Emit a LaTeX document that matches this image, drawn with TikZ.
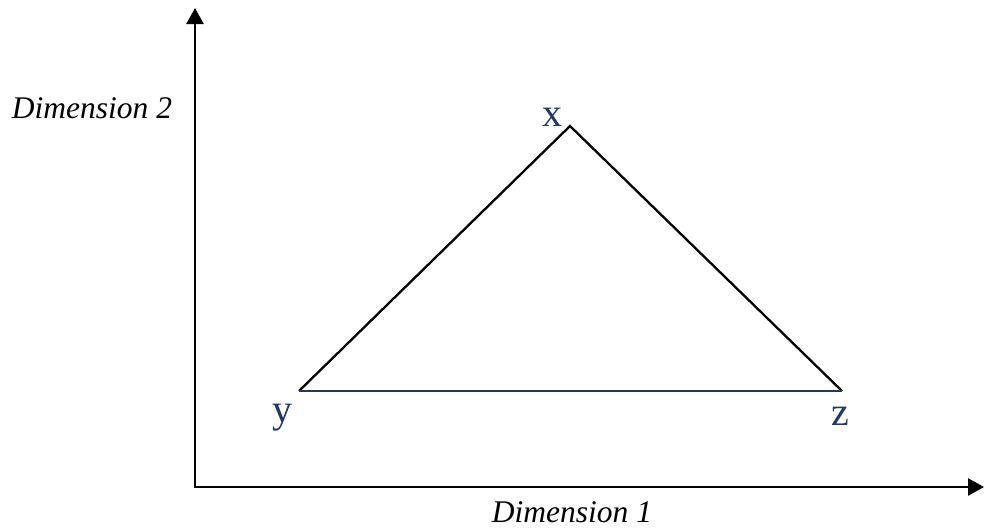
\documentclass[tikz,border=0pt]{standalone}
\usepackage{fontspec}
\setmainfont{Liberation Serif}
\usetikzlibrary{arrows.meta}
\definecolor{navy}{HTML}{1F3864}
\tikzset{
  axis/.style={line width=2.6pt, {Triangle[length=16pt,width=17pt]}-{Triangle[length=16pt,width=17pt]}},
  edge/.style={line width=2.3pt, line join=miter},
  dimlabel/.style={inner sep=0pt, anchor=base, font=\fontsize{31.5}{36}\selectfont\itshape},
  vlabel/.style={inner sep=0pt, anchor=base, text=navy, font=\fontsize{40}{48}\selectfont}
}
\begin{document}
\begin{tikzpicture}[x=1pt,y=-1pt]
\useasboundingbox (0,0) rectangle (984,531);
\coordinate (O) at (195,487);
\coordinate (Ytop) at (195,8);
\coordinate (Xend) at (984,487);
\coordinate (X) at (570,126);
\coordinate (Y) at (299,391);
\coordinate (Z) at (842,391);
\draw[axis, line join=miter] (Ytop) -- (O) -- (Xend);
\draw[edge] (Y) -- (X) -- (Z);
\draw[edge, navy] (Y) -- (Z);
\node[dimlabel] (d2) at (92,118) {Dimension 2};
\node[dimlabel] (d1) at (572,522) {Dimension 1};
\node[vlabel] (lx) at (552,126) {x};
\node[vlabel] (ly) at (282,422) {y};
\node[vlabel] (lz) at (840,425) {z};
\end{tikzpicture}
\end{document}
